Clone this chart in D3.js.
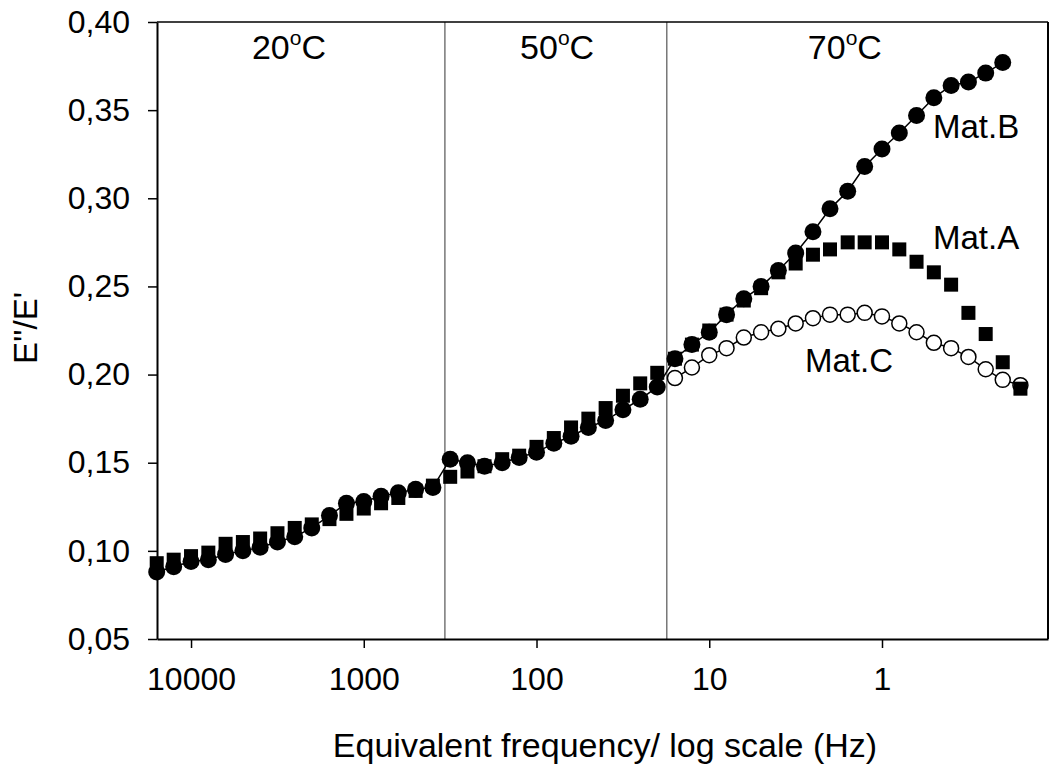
<!DOCTYPE html>
<html>
<head>
<meta charset="utf-8">
<script src="https://cdn.jsdelivr.net/npm/d3@7"></script>
<style>
body { margin: 0; background: #fff; }
text { font-family: "Liberation Sans", Arial, sans-serif; fill: #000; }
</style>
</head>
<body>
<script>

//equivalent frequency of every measuring point (Hz), 0.1 decade apart
var freq = [15800, 12600, 10000, 7940, 6310, 5010, 3980, 3160, 2510, 2000,
    1580, 1260, 1000, 794, 631, 501, 398, 316, 251, 200,
    158, 126, 100, 79.4, 63.1, 50.1, 39.8, 31.6, 25.1, 20.0,
    15.8, 12.6, 10.0, 7.94, 6.31, 5.01, 3.98, 3.16, 2.51, 2.00,
    1.58, 1.26, 1.00, 0.794, 0.631, 0.501, 0.398, 0.316, 0.251, 0.200,
    0.158];

//E''/E' of Mat.A (squares) - all points
var matA = [0.093, 0.095, 0.097, 0.099, 0.104, 0.105, 0.107, 0.110, 0.113, 0.115,
    0.118, 0.121, 0.124, 0.127, 0.130, 0.134, 0.137, 0.142, 0.145, 0.148,
    0.152, 0.154, 0.159, 0.164, 0.170, 0.175, 0.181, 0.188, 0.195, 0.201,
    0.209, 0.217, 0.225, 0.234, 0.242, 0.249, 0.258, 0.263, 0.268, 0.271,
    0.275, 0.275, 0.275, 0.271, 0.264, 0.258, 0.251, 0.235, 0.223, 0.207,
    0.192];

//Mat.B (filled circles) - first 50 points
var matB = [0.088, 0.091, 0.094, 0.095, 0.098, 0.100, 0.102, 0.105, 0.108, 0.113,
    0.120, 0.127, 0.128, 0.131, 0.133, 0.135, 0.136, 0.152, 0.150, 0.148,
    0.150, 0.153, 0.156, 0.161, 0.165, 0.170, 0.174, 0.180, 0.186, 0.193,
    0.209, 0.217, 0.224, 0.234, 0.243, 0.250, 0.259, 0.269, 0.281, 0.294,
    0.304, 0.318, 0.328, 0.337, 0.347, 0.357, 0.364, 0.366, 0.371, 0.377];

//Mat.C (open circles) - last 21 points, the rest sits under A and B
var matC = [0.198, 0.204, 0.211, 0.215, 0.221, 0.224, 0.226, 0.229, 0.232, 0.234,
    0.234, 0.235, 0.233, 0.229, 0.224, 0.218, 0.215, 0.210, 0.203, 0.197,
    0.194];

var xTicks = [10000, 1000, 100, 10, 1];
var yTicks = [0.05, 0.10, 0.15, 0.20, 0.25, 0.30, 0.35, 0.40];

//temperature zones: borders (Hz) and labels
var tempBounds = [339, 17.6];
var tempLabels = ['20', '50', '70'];
var tempLabelFreq = [2710, 76, 1.64];

//material labels
var matLabels = ['Mat.B', 'Mat.A', 'Mat.C'];
var matLabelFreq = [0.507, 0.507, 2.79];
var matLabelVal = [0.334, 0.271, 0.2015];

drawChart();

function drawChart(){

    var width = 1053,
        height = 765;

    var left = 157, right = 1048, top = 22, bottom = 639;

    var svg = d3.select('body')
        .append('svg')
        .attr('width', width)
        .attr('height', height);

    //reversed log scale for frequency
    var x = d3.scaleLog()
        .domain([15740, 0.1094])
        .range([left, right]);

    var y = d3.scaleLinear()
        .domain([0.05, 0.40])
        .range([bottom, top]);

    var commaFmt = function(d){ return d3.format('.2f')(d).replace('.', ','); };

    //temperature zone separators
    svg.selectAll('.sep')
        .data(tempBounds)
        .enter()
        .append('line')
        .attr('class', 'sep')
        .attr('x1', function(d){ return x(d); })
        .attr('x2', function(d){ return x(d); })
        .attr('y1', top)
        .attr('y2', bottom)
        .attr('stroke', '#333')
        .attr('stroke-width', 1);

    //frame top and right
    svg.append('line')
        .attr('x1', left).attr('x2', right)
        .attr('y1', top).attr('y2', top)
        .attr('stroke', '#000').attr('stroke-width', 1.5);
    svg.append('line')
        .attr('x1', right).attr('x2', right)
        .attr('y1', top).attr('y2', bottom)
        .attr('stroke', '#000').attr('stroke-width', 2);

    //axes
    var xAxis = svg.append('g')
        .attr('transform', 'translate(0,' + bottom + ')')
        .call(d3.axisBottom(x)
            .tickValues(xTicks)
            .tickFormat(d3.format('d'))
            .tickSize(9)
            .tickSizeOuter(0)
            .tickPadding(19));

    var yAxis = svg.append('g')
        .attr('transform', 'translate(' + left + ',0)')
        .call(d3.axisLeft(y)
            .tickValues(yTicks)
            .tickFormat(commaFmt)
            .tickSize(9)
            .tickSizeOuter(0)
            .tickPadding(18));

    [xAxis, yAxis].forEach(function(g){
        g.attr('font-size', 32)
            .attr('font-family', '"Liberation Sans", Arial, sans-serif');
        g.select('.domain').attr('stroke-width', 2);
        g.selectAll('.tick line').attr('stroke-width', 1.5);
    });

    //Mat.C: line plus open circles (drawn first, under the rest)
    var cData = matC.map(function(v, i){
        return {f: freq[freq.length - matC.length + i], v: v};
    });
    var bData = matB.map(function(v, i){ return {f: freq[i], v: v}; });
    var aData = matA.map(function(v, i){ return {f: freq[i], v: v}; });

    var line = d3.line()
        .x(function(d){ return x(d.f); })
        .y(function(d){ return y(d.v); });

    svg.append('path')
        .datum(cData)
        .attr('d', line)
        .attr('fill', 'none')
        .attr('stroke', '#000')
        .attr('stroke-width', 1.5);

    svg.selectAll('.matC')
        .data(cData)
        .enter()
        .append('circle')
        .attr('class', 'matC')
        .attr('cx', function(d){ return x(d.f); })
        .attr('cy', function(d){ return y(d.v); })
        .attr('r', 7.5)
        .attr('fill', '#fff')
        .attr('stroke', '#000')
        .attr('stroke-width', 1.5);

    //Mat.A squares
    svg.selectAll('.matA')
        .data(aData)
        .enter()
        .append('rect')
        .attr('class', 'matA')
        .attr('x', function(d){ return x(d.f) - 7; })
        .attr('y', function(d){ return y(d.v) - 7; })
        .attr('width', 14)
        .attr('height', 14)
        .attr('fill', '#000');

    //Mat.B line plus filled circles
    svg.append('path')
        .datum(bData)
        .attr('d', line)
        .attr('fill', 'none')
        .attr('stroke', '#000')
        .attr('stroke-width', 1.5);

    svg.selectAll('.matB')
        .data(bData)
        .enter()
        .append('circle')
        .attr('class', 'matB')
        .attr('cx', function(d){ return x(d.f); })
        .attr('cy', function(d){ return y(d.v); })
        .attr('r', 8.5)
        .attr('fill', '#000');

    //temperature labels with superscript o
    var temps = svg.selectAll('.temp')
        .data(tempLabels)
        .enter()
        .append('text')
        .attr('class', 'temp')
        .attr('x', function(d, i){ return x(tempLabelFreq[i]); })
        .attr('y', 59)
        .attr('text-anchor', 'middle')
        .attr('font-size', 34);
    temps.append('tspan').text(function(d){ return d; });
    temps.append('tspan').attr('font-size', 21).attr('dy', -14).text('o');
    temps.append('tspan').attr('dy', 14).text('C');

    //material labels
    svg.selectAll('.mat')
        .data(matLabels)
        .enter()
        .append('text')
        .attr('class', 'mat')
        .attr('x', function(d, i){ return x(matLabelFreq[i]); })
        .attr('y', function(d, i){ return y(matLabelVal[i]); })
        .attr('font-size', 33)
        .text(function(d){ return d; });

    //axis titles
    svg.append('text')
        .attr('x', 605)
        .attr('y', 757)
        .attr('text-anchor', 'middle')
        .attr('font-size', 34)
        .text('Equivalent frequency/ log scale (Hz)');

    svg.append('text')
        .attr('transform', 'translate(37,328) rotate(-90)')
        .attr('text-anchor', 'middle')
        .attr('font-size', 33)
        .text("E''/E'");
}
</script>
</body>
</html>
